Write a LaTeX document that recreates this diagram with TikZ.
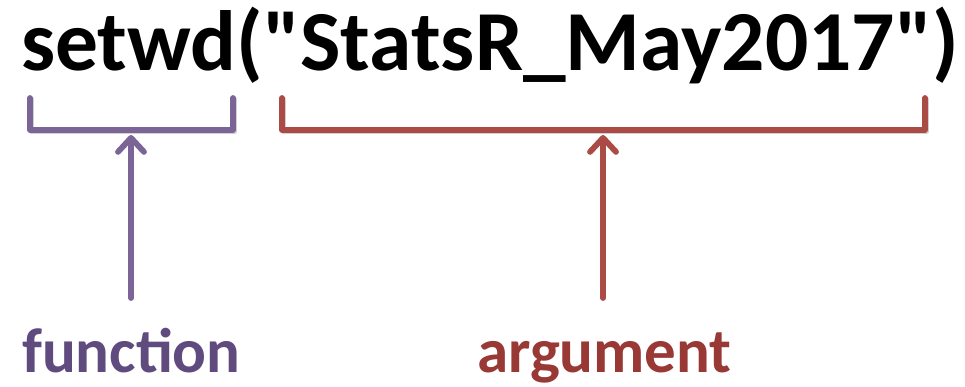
\documentclass[tikz,border=0pt]{standalone}
\usepackage{fontspec}
\newfontfamily\calfont{Carlito}[Ligatures=Common]
\usetikzlibrary{arrows.meta}
\definecolor{purpline}{HTML}{7B6496}
\definecolor{purptext}{HTML}{5F4B7D}
\definecolor{redline}{HTML}{AA4B45}
\definecolor{redtext}{HTML}{993936}
\begin{document}
\begin{tikzpicture}[x=1pt,y=-1pt,
  brace/.style={line width=5.8pt, line cap=round, line join=round},
  pointer/.style={line width=5.8pt, line cap=round, -{Straight Barb[length=14pt,width=26pt,line cap=round,line join=round]}},
  shadowed/.style={draw=black!18, line width=5.8pt, line cap=round, line join=round}
]
\useasboundingbox (0,0) rectangle (965,386);
\node[anchor=base west, inner sep=0pt, font=\calfont\fontsize{85.5}{96}\selectfont\bfseries] (code) at (21,70) {setwd("StatsR\_May2017")};
% shadows
\draw[shadowed] (31.5,99.5) -- (31.5,131.5) -- (234.5,131.5) -- (234.5,99.5);
\draw[shadowed] (283.5,99.5) -- (283.5,131.5) -- (926.5,131.5) -- (926.5,99.5);
% brackets
\coordinate (fL) at (30,98); \coordinate (fR) at (233,98);
\coordinate (aL) at (282,98); \coordinate (aR) at (925,98);
\draw[brace, purpline] (fL) -- (30,130) -- (233,130) -- (fR);
\draw[brace, redline] (aL) -- (282,130) -- (925,130) -- (aR);
% labels
\node[anchor=base west, inner sep=0pt, font=\calfont\fontsize{63}{70}\selectfont\bfseries, text=purptext] (fun) at (22,372) {function};
\node[anchor=base west, inner sep=0pt, font=\calfont\fontsize{63}{70}\selectfont\bfseries, text=redtext] (arg) at (477,372) {argument};
\coordinate (ftip) at (131,135); \coordinate (fbase) at (131,298);
\coordinate (atip) at (603,135); \coordinate (abase) at (603,298);
\draw[pointer, purpline] (fbase) -- (ftip);
\draw[pointer, redline] (abase) -- (atip);
\end{tikzpicture}
\end{document}
